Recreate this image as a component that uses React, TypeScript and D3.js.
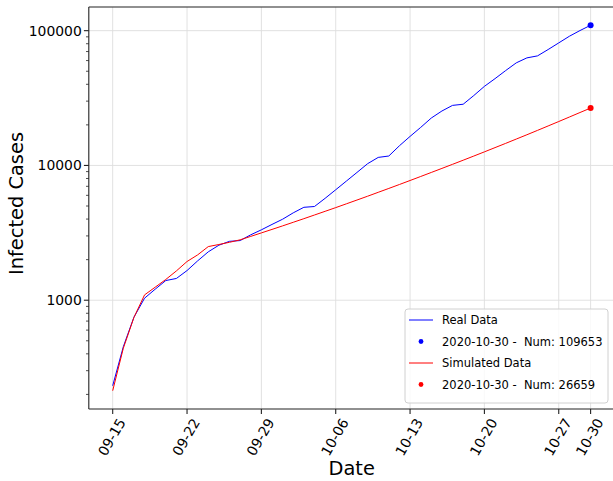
import React from "react";
import * as d3 from "d3";

const startDate = "2020-09-15";
const realValues = [
  232, 452, 748, 1035, 1207, 1399, 1450, 1660, 1959, 2285,
  2560, 2735, 2770, 3057, 3329, 3650, 3990, 4450, 4890, 4957,
  5700, 6600, 7650, 8870, 10300, 11470, 11750, 14000, 16420, 19150,
  22480, 25350, 27900, 28450, 33000, 38610, 44050, 50560, 57700, 62820,
  65000, 72440, 81150, 90890, 100200, 109653,
];
const simValues = [
  213, 440, 745, 1095, 1249, 1425, 1650, 1937, 2170, 2500,
  2590, 2690, 2806, 2976, 3158, 3352, 3561, 3786, 4027, 4287,
  4566, 4865, 5189, 5537, 5910, 6317, 6752, 7221, 7731, 8279,
  8872, 9506, 10193, 10934, 11738, 12610, 13558, 14578, 15690, 16892,
  18204, 19630, 21178, 22864, 24699, 26659,
];
const xTickLabels = ["09-15", "09-22", "09-29", "10-06", "10-13", "10-20", "10-27", "10-30"];
const yMajorTicks = [1000, 10000, 100000];
const legendLabels = ["Real Data", "2020-10-30 -  Num: 109653", "Simulated Data", "2020-10-30 -  Num: 26659"];
const xLabel = "Date";
const yLabel = "Infected Cases";

const FONT = "DejaVu Sans, sans-serif";
const W = 613, H = 481;
const L = 88.8, R = 614.5, T = 7, B = 409;

export default function App() {
  const parse = d3.timeParse("%Y-%m-%d");
  const d0 = parse(startDate) as Date;
  const dates = realValues.map((_, i) => d3.timeDay.offset(d0, i));
  const first = dates[0], last = dates[dates.length - 1];
  const span = last.getTime() - first.getTime();
  const x = d3.scaleTime()
    .domain([new Date(first.getTime() - span * 0.05), new Date(last.getTime() + span * 0.05)])
    .range([L, R]);
  const all = realValues.concat(simValues);
  const lmin = Math.log10(d3.min(all)!), lmax = Math.log10(d3.max(all)!);
  const m = (lmax - lmin) * 0.05;
  const y = d3.scaleLog().domain([10 ** (lmin - m), 10 ** (lmax + m)]).range([B, T]);

  const line = d3.line<number>().x((_, i) => x(dates[i])).y((v) => y(v));

  const xTickDates = xTickLabels.map((s) => parse("2020-" + s) as Date);
  const [ylo, yhi] = y.domain();
  const minor: number[] = [];
  for (let e = 2; e <= 5; e++) {
    for (let k = 2; k <= 9; k++) {
      const v = k * 10 ** e;
      if (v >= ylo && v <= yhi) minor.push(v);
    }
  }

  const lastDate = dates[dates.length - 1];
  const lg = { x: 405, y: 309, w: 203, h: 94 };
  const rows = [320, 341.5, 363, 384.5];

  return (
    <div style={{ position: "fixed", left: 0, top: 0 }}>
      <svg width={W} height={H} style={{ display: "block", background: "#fff" }} fontFamily={FONT}>
        {xTickDates.map((d, i) => (
          <line key={"gx" + i} x1={x(d)} x2={x(d)} y1={T} y2={B} stroke="#dedede" strokeWidth={0.9} />
        ))}
        {yMajorTicks.map((v, i) => (
          <line key={"gy" + i} x1={L} x2={R} y1={y(v)} y2={y(v)} stroke="#dedede" strokeWidth={0.9} />
        ))}
        <path d={line(realValues) || ""} fill="none" stroke="#0000ff" strokeWidth={1} />
        <path d={line(simValues) || ""} fill="none" stroke="#ff0000" strokeWidth={1} />
        <circle cx={x(lastDate)} cy={y(realValues[realValues.length - 1])} r={3} fill="#0000ff" />
        <circle cx={x(lastDate)} cy={y(simValues[simValues.length - 1])} r={3} fill="#ff0000" />
        <line x1={L} x2={L} y1={T} y2={B} stroke="#222" strokeWidth={1.1} />
        <line x1={L} x2={R} y1={B} y2={B} stroke="#222" strokeWidth={1.1} />
        <line x1={L} x2={R} y1={T} y2={T} stroke="#222" strokeWidth={1.1} />
        <line x1={R} x2={R} y1={T} y2={B} stroke="#222" strokeWidth={1.1} />
        {yMajorTicks.map((v, i) => (
          <g key={"yt" + i}>
            <line x1={L - 4.9} x2={L} y1={y(v)} y2={y(v)} stroke="#222" strokeWidth={1.1} />
            <text x={L - 7} y={y(v)} textAnchor="end" dominantBaseline="central" fontSize={13.9} fill="#000">
              {String(v)}
            </text>
          </g>
        ))}
        {minor.map((v, i) => (
          <line key={"ym" + i} x1={L - 2.8} x2={L} y1={y(v)} y2={y(v)} stroke="#222" strokeWidth={0.8} />
        ))}
        {xTickDates.map((d, i) => (
          <g key={"xt" + i}>
            <line x1={x(d)} x2={x(d)} y1={B} y2={B + 4.9} stroke="#222" strokeWidth={1.1} />
            <text
              transform={`translate(${x(d) - 1},${437}) rotate(-60)`}
              textAnchor="middle"
              dominantBaseline="central"
              fontSize={13.9}
              fill="#000"
            >
              {xTickLabels[i]}
            </text>
          </g>
        ))}
        <text x={(L + R) / 2} y={468} textAnchor="middle" dominantBaseline="central" fontSize={19.4} fill="#000">
          {xLabel}
        </text>
        <text
          transform={`translate(16,${203.5}) rotate(-90)`}
          textAnchor="middle"
          dominantBaseline="central"
          fontSize={19.4}
          fill="#000"
        >
          {yLabel}
        </text>
        <rect x={lg.x} y={lg.y} width={lg.w} height={lg.h} rx={3} fill="#fff" fillOpacity={0.8} stroke="#d0d0d0" strokeWidth={1} />
        <line x1={409} x2={433} y1={rows[0]} y2={rows[0]} stroke="#0000ff" strokeWidth={1} />
        <circle cx={421} cy={rows[1]} r={2.4} fill="#0000ff" />
        <line x1={409} x2={433} y1={rows[2]} y2={rows[2]} stroke="#ff0000" strokeWidth={1} />
        <circle cx={421} cy={rows[3]} r={2.4} fill="#ff0000" />
        {legendLabels.map((s, i) => (
          <text key={"lg" + i} x={442} y={rows[i]} dominantBaseline="central" fontSize={11.5} fill="#000" style={{ whiteSpace: "pre" }}>
            {s}
          </text>
        ))}
      </svg>
    </div>
  );
}
